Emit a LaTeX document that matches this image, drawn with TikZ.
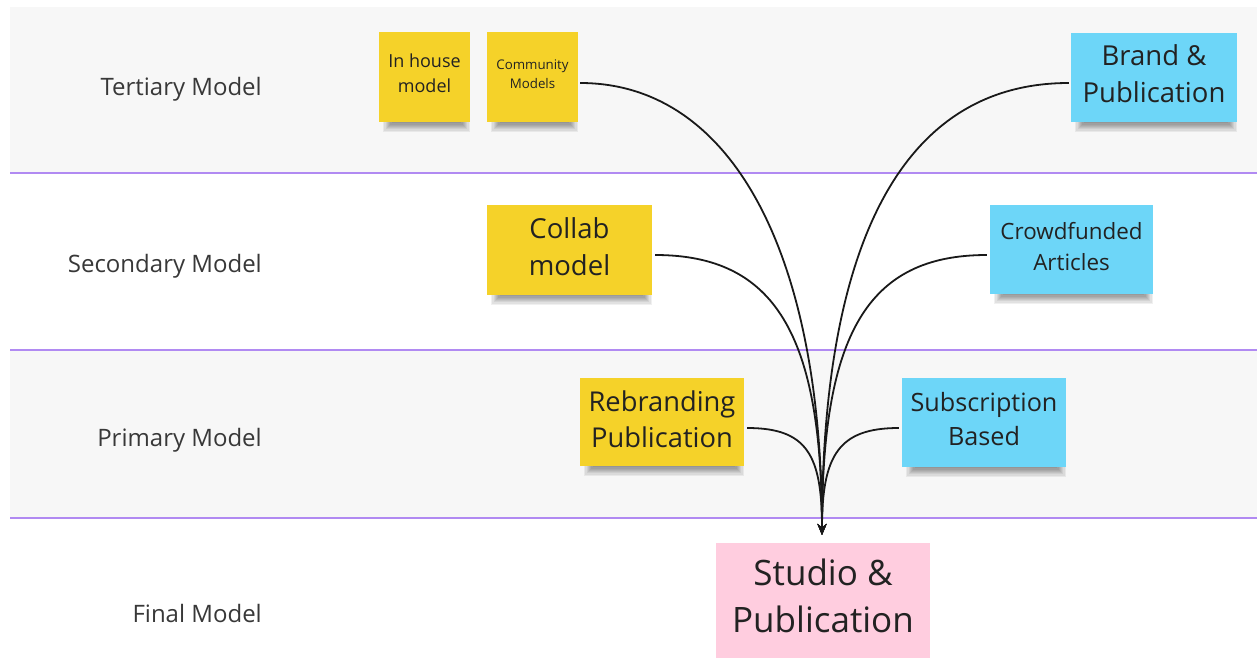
\documentclass[tikz,border=0pt]{standalone}
\usepackage{fontspec}
\setmainfont{Open Sans}
\usetikzlibrary{arrows.meta}
\pgfdeclarelayer{bands}
\pgfdeclarelayer{shadowlayer}
\pgfsetlayers{bands,shadowlayer,main}
\definecolor{bandgray}{HTML}{F7F7F7}
\definecolor{lanepurple}{HTML}{B18AF2}
\definecolor{noteyellow}{HTML}{F5D229}
\definecolor{noteblue}{HTML}{6DD6F8}
\definecolor{notepink}{HTML}{FFCDDF}
\definecolor{inkdark}{HTML}{222222}
\begin{document}
\begin{tikzpicture}[x=1pt,y=-1pt,
  note/.style={rectangle, inner sep=0pt},
  ynote/.style={note, fill=noteyellow},
  bnote/.style={note, fill=noteblue},
  notetext/.style={align=center, text=inkdark, inner sep=0pt},
  lanelabel/.style={anchor=east, inner sep=0pt, text=inkdark!90, font=\fontsize{24}{28}\selectfont},
  lane/.style={draw=lanepurple, line width=1.2pt},
  shadowpiece/.style={fill=black, opacity=0.06},
  link/.style={draw=black!90, line width=1.8pt, -{Stealth[length=11pt,width=9pt]}}
]
\useasboundingbox (0,0) rectangle (1257,658);
\begin{pgfonlayer}{bands}
\fill[white] (0,0) rectangle (1257,658);
\fill[bandgray] (10,7) rectangle (1257,173);
\fill[bandgray] (10,350) rectangle (1257,518);
\draw[lane] (10,173) -- (1257,173);
\draw[lane] (10,350) -- (1257,350);
\draw[lane] (10,518) -- (1257,518);
\end{pgfonlayer}

\node[lanelabel] (lt) at (262,89) {Tertiary Model};
\node[lanelabel] (ls) at (262,266) {Secondary Model};
\node[lanelabel] (lp) at (262,440) {Primary Model};
\node[lanelabel] (lf) at (262,613) {Final Model};

\node[ynote, minimum width=91pt, minimum height=90pt] (inhouse) at (424.5,77) {};
\node[notetext, font=\fontsize{18}{25}\selectfont] (inhouset) at ([yshift=3.5pt]inhouse.center) {In house\\model};
\node[ynote, minimum width=91pt, minimum height=90pt] (community) at (532.5,77) {};
\node[notetext, font=\fontsize{13.3}{19}\selectfont] (communityt) at ([yshift=2.5pt]community.center) {Community\\Models};
\node[bnote, minimum width=166pt, minimum height=89pt] (brand) at (1154,77.5) {};
\node[notetext, font=\fontsize{27.5}{37}\selectfont] (brandt) at ([yshift=4pt]brand.center) {Brand \&\\Publication};
\node[ynote, minimum width=165pt, minimum height=90pt] (collab) at (569.5,250) {};
\node[notetext, font=\fontsize{27.5}{37}\selectfont] (collabt) at ([yshift=3.5pt]collab.center) {Collab\\model};
\node[bnote, minimum width=163pt, minimum height=89pt] (crowd) at (1071.5,249.5) {};
\node[notetext, font=\fontsize{22.4}{31}\selectfont] (crowdt) at ([yshift=3pt]crowd.center) {Crowdfunded\\Articles};
\node[ynote, minimum width=164pt, minimum height=88pt] (rebrand) at (662,422) {};
\node[notetext, font=\fontsize{27.3}{36}\selectfont] (rebrandt) at ([yshift=3pt]rebrand.center) {Rebranding\\Publication};
\node[bnote, minimum width=164pt, minimum height=89pt] (subs) at (984,422.5) {};
\node[notetext, font=\fontsize{25.2}{34}\selectfont] (subst) at ([yshift=3.5pt]subs.center) {Subscription\\Based};
\node[rectangle, fill=notepink, inner sep=0pt, minimum width=214pt, minimum height=115pt] (studio) at (823,600.5) {};
\node[notetext, font=\fontsize{35}{47}\selectfont] (studiot) at ([yshift=5pt]studio.center) {Studio \&\\Publication};

\begin{pgfonlayer}{shadowlayer}
\foreach \n in {inhouse,community,brand,collab,crowd,rebrand,subs}{
  \foreach \k in {1,...,8}{
    \fill[shadowpiece] ([xshift={14pt-\k*1.2pt},yshift=6pt]\n.south west)
      rectangle ([xshift={-10pt+\k*1.2pt},yshift={-1.2pt*\k}]\n.south east);
  }
}
\end{pgfonlayer}

\coordinate (tip) at (822,535);
\path[link] ([xshift=2pt,yshift=-6pt]community.east) .. controls +(150,0) and +(0,-285) .. (tip);
\path[link] ([xshift=-2pt,yshift=-5.5pt]brand.west) .. controls +(-170,0) and +(0,-285) .. (tip);
\path[link] ([xshift=3pt,yshift=-5pt]collab.east) .. controls +(120,0) and +(0,-200) .. (tip);
\path[link] ([xshift=-3pt,yshift=-5.5pt]crowd.west) .. controls +(-120,0) and +(0,-200) .. (tip);
\path[link] ([xshift=3pt,yshift=-6pt]rebrand.east) .. controls +(60,0) and +(0,-80) .. (tip);
\path[link] ([xshift=-3pt,yshift=-5.5pt]subs.west) .. controls +(-60,0) and +(0,-80) .. (tip);
\end{tikzpicture}
\end{document}
